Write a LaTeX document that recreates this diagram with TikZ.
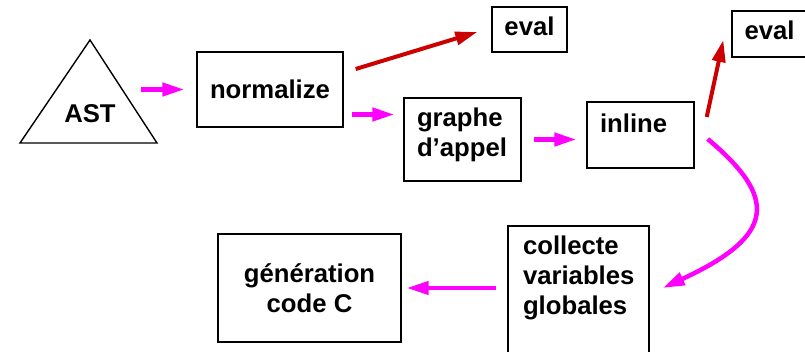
\documentclass[tikz,border=0pt]{standalone}
\usepackage{fontspec}
\setmainfont{Liberation Sans}
\usetikzlibrary{arrows.meta}
\definecolor{passpink}{RGB}{255,0,255}
\definecolor{evalred}{RGB}{204,0,0}

\begin{document}
\begin{tikzpicture}[
  x=1pt, y=-1pt,
  every node/.style={font=\fontsize{25.7}{30}\selectfont\bfseries, inner sep=0pt},
  box/.style={draw, line width=1.4pt},
  flow/.style={draw=passpink, line width=4.5pt, -{Triangle[length=22pt,width=13pt]}},
  call/.style={draw=evalred, line width=4pt, -{Triangle[length=22pt,width=13pt]}}
]
\useasboundingbox (0,0) rectangle (805,352);

\draw[line width=1.4pt] (90,40) -- (157,143) -- (20,143) -- cycle;
\node (ast) at (90,114) {AST};

\node[box, minimum width=146pt, minimum height=75pt] (normalize) at (270,89.5) {normalize};
\node[box, minimum width=75pt, minimum height=45pt, text depth=7pt] (eval) at (529.5,29.5) {eval};
\node[box, minimum width=117pt, minimum height=83pt, text width=91pt, align=left, text depth=44pt]
  (graphe) at (462.5,139.5) {graphe\\d'appel};
\node[box, minimum width=107pt, minimum height=66pt, text width=81pt, align=left, text depth=23pt]
  (inline) at (640.5,135) {inline};
\node[box, minimum width=75pt, minimum height=46pt, text depth=7pt] (evalinline) at (769.5,34) {eval};
\node[box, minimum width=141pt, minimum height=144pt, text width=111pt, align=left, text depth=105pt]
  (collecte) at (578.5,298) {collecte\\variables\\globales};
\node[box, minimum width=183pt, minimum height=108pt, align=center] (generation) at (309.5,288) {génération\\code C};

\draw[flow, shorten <=25pt, shorten >=12pt] (ast.east |- normalize.west) -- (normalize.west);
\draw[flow, shorten <=8pt, shorten >=9pt] ([yshift=-25pt]normalize.east) -- ([yshift=-25pt]normalize.east -| graphe.west);
\draw[flow, shorten <=12pt, shorten >=10pt] (graphe.east) -- (graphe.east -| inline.west);
\draw[flow] ([xshift=13pt,yshift=-4pt]inline.east) .. controls +(69,58) and +(115,-53) .. ([xshift=13pt,yshift=10pt]collecte.east);
\draw[flow, shorten <=11pt, shorten >=5pt] (collecte.west |- generation.east) -- (generation.east);

\draw[call] ([xshift=12pt,yshift=20.5pt]normalize.east) -- ([xshift=-14pt,yshift=-2.5pt]eval.west);
\draw[call] ([xshift=12pt,yshift=18pt]inline.east) -- ([xshift=-8pt,yshift=-6pt]evalinline.west);
\end{tikzpicture}
\end{document}
